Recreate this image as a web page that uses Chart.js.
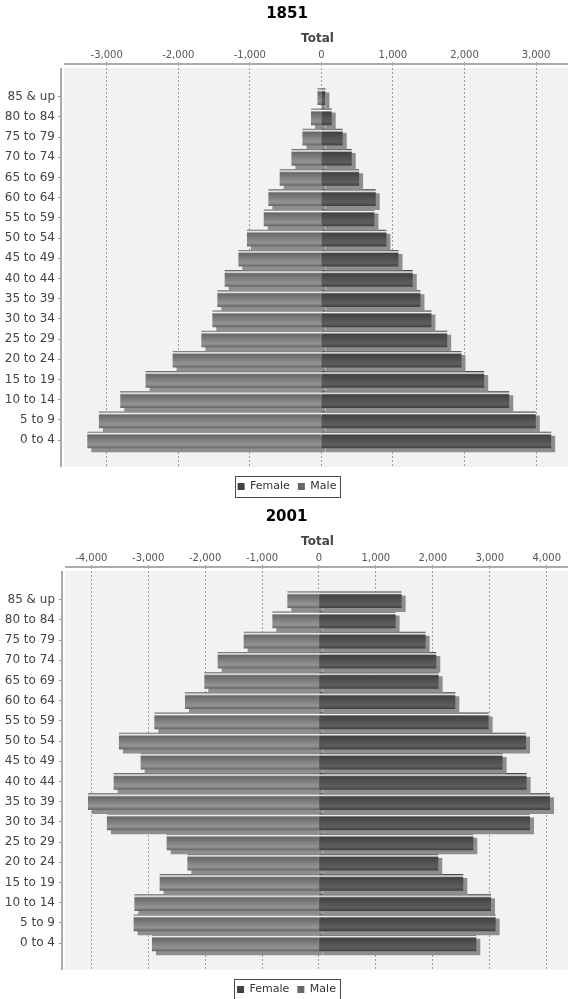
<!DOCTYPE html>
<html>
<head>
<meta charset="utf-8">
<script src="https://cdn.jsdelivr.net/npm/chart.js@4.4.0/dist/chart.umd.min.js"></script>
<style>
html, body { margin: 0; padding: 0; background: #ffffff; overflow: hidden; width: 568px; height: 999px; }
.wrap { position: absolute; left: 0; width: 576px; height: 502px; }
#w1 { top: 0; }
#w2 { top: 503px; }
canvas { display: block; }
</style>
</head>
<body>
<div class="wrap" id="w1"><canvas id="c1" width="576" height="502" style="width:576px;height:502px"></canvas></div>
<div class="wrap" id="w2"><canvas id="c2" width="576" height="502" style="width:576px;height:502px"></canvas></div>
<script>
// ---- data ----
const ageGroups = ['0 to 4', '5 to 9', '10 to 14', '15 to 19', '20 to 24', '25 to 29', '30 to 34', '35 to 39',
  '40 to 44', '45 to 49', '50 to 54', '55 to 59', '60 to 64', '65 to 69', '70 to 74', '75 to 79', '80 to 84', '85 & up'];
const seriesNames = ['Female', 'Male'];
const chartTitles = ['1851', '2001'];
const axisTitle = 'Total';

const female1851 = [3208, 2993, 2621, 2271, 1954, 1754, 1534, 1380, 1273, 1073, 905, 737, 755, 523, 420, 294, 140, 52];
const male1851 = [-3267, -3105, -2806, -2452, -2074, -1673, -1519, -1449, -1347, -1155, -1035, -801, -736, -578, -414, -260, -140, -50];

const female2001 = [2758, 3097, 3016, 2529, 2090, 2705, 3701, 4052, 3641, 3220, 3631, 2974, 2389, 2096, 2055, 1867, 1340, 1446];
const male2001 = [-2928, -3250, -3237, -2793, -2306, -2670, -3719, -4052, -3601, -3127, -3508, -2886, -2349, -2008, -1774, -1317, -813, -550];

// ---- styling ----
const FEMALE_BASE = '#424242', FEMALE_LIGHT = '#5e5e5e';
const MALE_BASE = '#686868', MALE_LIGHT = '#949494';
const PLOT_BG = '#f2f2f2';
const SHADOW = '#8e8e8e';
const AXIS_LINE = '#ababab';
const BAR_THICKNESS = 16;

Chart.defaults.font.family = "'DejaVu Sans', sans-serif";

function barFill(base, light) {
  return (c) => {
    if (c.type !== 'data') return base;
    const chart = c.chart;
    const ys = chart.scales && chart.scales.y;
    if (!ys || !chart.chartArea || !c.raw) return base;
    const mid = ys.getPixelForValue(c.raw.y);
    if (!isFinite(mid)) return base;
    const top = mid - BAR_THICKNESS / 2;
    const g = chart.ctx.createLinearGradient(0, top, 0, top + BAR_THICKNESS);
    g.addColorStop(0, base);
    g.addColorStop(0.1, '#f4f4f4');
    g.addColorStop(0.2, base);
    g.addColorStop(0.8, light);
    g.addColorStop(1, base);
    return g;
  };
}

const decor = {
  id: 'decor',
  beforeDraw(chart) {
    const { ctx, chartArea: a } = chart;
    ctx.save();
    ctx.fillStyle = PLOT_BG;
    ctx.fillRect(a.left + 3, a.top + 4, a.right - a.left - 3, a.bottom - a.top - 4);
    ctx.restore();
  },
  beforeDatasetsDraw(chart) {
    const c = chart.ctx;
    c.save();
    c.shadowColor = SHADOW;
    c.shadowOffsetX = 4;
    c.shadowOffsetY = 4;
    c.shadowBlur = 0;
  },
  afterDatasetsDraw(chart) {
    chart.ctx.restore();
  },
  afterDraw(chart) {
    const { ctx, chartArea: a } = chart;
    ctx.save();
    ctx.strokeStyle = AXIS_LINE;
    ctx.lineWidth = 2;
    ctx.beginPath();
    ctx.moveTo(a.left + 3, a.top);
    ctx.lineTo(a.right, a.top);
    ctx.moveTo(a.left, a.top + 4);
    ctx.lineTo(a.left, a.bottom);
    ctx.stroke();
    const hb = chart.legend && chart.legend.legendHitBoxes;
    if (hb && hb.length) {
      const last = hb[hb.length - 1];
      const l = Math.round(hb[0].left - 3);
      const r = Math.round(last.left + last.width + 4);
      const cy = hb[0].top + hb[0].height / 2;
      ctx.lineWidth = 1;
      ctx.strokeStyle = '#4a4a4a';
      ctx.strokeRect(l + 0.5, Math.round(cy - 10.5) + 0.5, r - l, 21);
    }
    ctx.restore();
  }
};

function makeChart(canvasId, title, female, male, xMin, xMax, leftWidth, rightPad, yLabelPad) {
  return new Chart(document.getElementById(canvasId), {
    type: 'bar',
    data: {
      datasets: [
        { label: seriesNames[0], data: female.map((v, i) => ({ x: v, y: i })), backgroundColor: barFill(FEMALE_BASE, FEMALE_LIGHT),
          legendColor: FEMALE_BASE, barThickness: BAR_THICKNESS, grouped: false, borderWidth: 0 },
        { label: seriesNames[1], data: male.map((v, i) => ({ x: v, y: i })), backgroundColor: barFill(MALE_BASE, MALE_LIGHT),
          legendColor: MALE_BASE, barThickness: BAR_THICKNESS, grouped: false, borderWidth: 0 }
      ]
    },
    plugins: [decor],
    options: {
      indexAxis: 'y',
      responsive: false,
      animation: false,
      devicePixelRatio: 1,
      events: [],
      layout: { padding: { left: 0, right: rightPad, top: 0, bottom: 0 } },
      scales: {
        x: {
          type: 'linear', position: 'top', min: xMin, max: xMax,
          afterFit: (s) => { s.height = 38; },
          ticks: { includeBounds: false, maxTicksLimit: 11, autoSkip: false, maxRotation: 0, padding: 1, color: '#555',
            font: { size: 10 }, callback: (v) => Number(v).toLocaleString('en-US') },
          grid: { color: '#9e9e9e', lineWidth: 1, drawTicks: true, tickLength: 2, tickColor: '#999', tickWidth: 1 },
          border: { display: false, dash: [2, 2] },
          title: { display: true, text: axisTitle, color: '#444', font: { size: 12, weight: 'bold' }, padding: { top: 6, bottom: 0 } }
        },
        y: {
          type: 'linear', position: 'left', min: -1.337, max: 18.62, offset: false,
          afterFit: (s) => { s.width = leftWidth; },
          afterBuildTicks: (s) => { s.ticks = s.ticks.filter(t => Number.isInteger(t.value) && t.value >= 0 && t.value < ageGroups.length); },
          ticks: { stepSize: 1, includeBounds: false, autoSkip: false, padding: yLabelPad, color: '#444', font: { size: 12 },
            callback: (v) => (ageGroups[v] !== undefined ? ageGroups[v] : '') },
          grid: { offset: false, drawOnChartArea: false, drawTicks: true, tickLength: 3, tickColor: '#999' },
          border: { display: false }
        }
      },
      plugins: {
        title: { display: true, text: title, color: '#000', font: { size: 15, weight: 'bold' }, padding: { top: 5.5, bottom: 2.5 } },
        legend: {
          position: 'bottom',
          title: { display: true, text: '', padding: 0, font: { size: 5, lineHeight: 1.2 } },
          labels: { boxWidth: 7, boxHeight: 7, padding: 8, color: '#333', font: { size: 11 },
            generateLabels: (chart) => chart.data.datasets.map((ds, i) => ({
              text: ds.label, fillStyle: ds.legendColor, strokeStyle: ds.legendColor,
              lineWidth: 0, hidden: false, datasetIndex: i, fontColor: '#333' })) }
        },
        tooltip: { enabled: false }
      }
    }
  });
}

makeChart('c1', chartTitles[0], female1851, male1851, -3639, 3531, 61, 2, 3);
makeChart('c2', chartTitles[1], female2001, male2001, -4514, 4462, 62, 3, 4);
</script>
</body>
</html>
